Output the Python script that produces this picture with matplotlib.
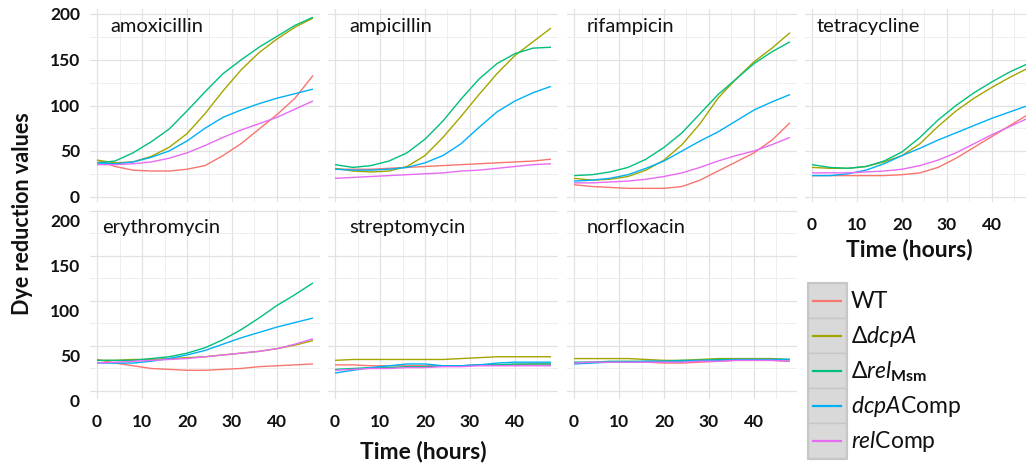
import matplotlib
matplotlib.use('Agg')
import matplotlib.pyplot as plt
import matplotlib.transforms as mtransforms
from matplotlib.patches import Rectangle

plt.rcParams['font.family'] = ['Lato', 'DejaVu Sans']
plt.rcParams['mathtext.fontset'] = 'custom'
plt.rcParams['mathtext.rm'] = 'Lato'
plt.rcParams['mathtext.it'] = 'Lato:italic'
plt.rcParams['mathtext.bf'] = 'Lato:bold'

# ---------------- data ----------------
time_h = [0, 4, 8, 12, 16, 20, 24, 28, 32, 36, 40, 44, 48]

strains = ['WT', 'dcpA', 'relMsm', 'dcpAComp', 'relComp']
legend_labels = ['WT', r'$\Delta\mathit{dcpA}$', r'$\Delta\mathit{rel}_{\mathbf{Msm}}$',
                 r'$\mathit{dcpA}\mathrm{Comp}$', r'$\mathit{rel}\mathrm{Comp}$']
colors = ['#F8766D', '#A3A500', '#00BF7D', '#00B0F6', '#E76BF3']

# order of series in each panel: WT, dcpA, relMsm, dcpAComp, relComp
amoxicillin = [
    [40, 33, 29, 28, 28, 30, 34, 45, 58, 74, 90, 108, 133],
    [40, 37, 38, 44, 54, 69, 91, 116, 139, 158, 173, 186, 196],
    [37, 39, 48, 60, 74, 94, 115, 135, 150, 164, 176, 188, 197],
    [37, 36, 38, 43, 50, 61, 75, 87, 95, 102, 108, 113, 118],
    [35, 35, 36, 38, 42, 48, 56, 65, 73, 80, 87, 96, 105],
]
ampicillin = [
    [30, 30, 30, 31, 32, 33, 34, 35, 36, 37, 38, 39, 41],
    [31, 28, 27, 28, 33, 45, 65, 88, 112, 135, 155, 170, 185],
    [35, 32, 34, 39, 48, 63, 83, 107, 129, 146, 157, 163, 164],
    [30, 29, 29, 30, 32, 37, 45, 58, 76, 93, 105, 114, 121],
    [20, 21, 22, 23, 24, 25, 26, 28, 29, 31, 33, 35, 36],
]
rifampicin = [
    [13, 11, 10, 9, 9, 9, 11, 18, 28, 38, 48, 62, 81],
    [20, 18, 19, 22, 29, 40, 57, 80, 108, 129, 148, 163, 180],
    [23, 24, 27, 32, 41, 54, 70, 91, 112, 129, 146, 159, 170],
    [17, 18, 20, 24, 31, 39, 50, 61, 71, 83, 95, 104, 112],
    [15, 15, 16, 17, 19, 22, 26, 32, 39, 45, 50, 57, 65],
]
tetracycline = [
    [23, 23, 23, 23, 23, 24, 26, 32, 42, 54, 66, 78, 90],
    [32, 31, 31, 33, 38, 45, 58, 77, 94, 108, 120, 131, 141],
    [35, 32, 31, 33, 39, 49, 65, 84, 100, 114, 126, 137, 146],
    [23, 23, 25, 29, 36, 45, 53, 62, 70, 78, 86, 93, 100],
    [26, 26, 26, 27, 28, 30, 34, 40, 48, 58, 68, 77, 86],
]
erythromycin = [
    [35, 31, 28, 25, 24, 23, 23, 24, 25, 27, 28, 29, 30],
    [34, 34, 35, 35, 36, 37, 38, 40, 42, 44, 47, 51, 56],
    [34, 34, 34, 36, 38, 42, 48, 57, 68, 81, 95, 107, 120],
    [31, 31, 31, 33, 36, 40, 45, 52, 59, 65, 71, 76, 81],
    [31, 32, 33, 34, 35, 36, 38, 40, 42, 44, 47, 52, 58],
]
streptomycin = [
    [29, 29, 28, 28, 28, 28, 28, 28, 29, 29, 29, 30, 30],
    [34, 35, 35, 35, 35, 35, 35, 36, 37, 38, 38, 38, 38],
    [24, 25, 26, 26, 27, 27, 28, 28, 29, 29, 30, 30, 30],
    [20, 23, 26, 28, 30, 30, 28, 28, 29, 31, 32, 32, 32],
    [23, 24, 25, 25, 26, 26, 27, 27, 28, 28, 28, 28, 28],
]
norfloxacin = [
    [31, 32, 32, 32, 32, 31, 31, 32, 33, 34, 34, 34, 33],
    [36, 36, 36, 36, 35, 34, 34, 35, 36, 36, 36, 36, 35],
    [32, 32, 33, 33, 33, 33, 34, 34, 35, 35, 35, 35, 35],
    [30, 31, 32, 32, 33, 33, 33, 34, 34, 35, 35, 35, 35],
    [31, 32, 32, 32, 32, 32, 32, 33, 33, 34, 34, 34, 33],
]

panel_names = ['amoxicillin', 'ampicillin', 'rifampicin', 'tetracycline',
               'erythromycin', 'streptomycin', 'norfloxacin']
panel_data = [amoxicillin, ampicillin, rifampicin, tetracycline,
              erythromycin, streptomycin, norfloxacin]

x_ticks = [0, 10, 20, 30, 40]
y_ticks = [0, 50, 100, 150, 200]

# ---------------- figure ----------------
W, H = 1026, 464
fig = plt.figure(figsize=(W / 100, H / 100), dpi=100)
fig.patch.set_facecolor('white')


def px_rect(left, top, width, height):
    return [left / W, 1 - (top + height) / H, width / W, height / H]


col_left = [90, 328, 567, 805]
panel_w = 230
rows = {0: (10, 193), 1: (211, 189)}
ylims = {0: (-6.0, 206.0), 1: (-8.9, 201.0)}
xlim = (-1.56, 49.56)
title_dx = [20, 21, 20, 12, 12, 21, 20]

grid_major = '#e2e2e2'
grid_minor = '#eeeeee'
txt = '#111111'

axes = []
for i, (name, series) in enumerate(zip(panel_names, panel_data)):
    r, c = divmod(i, 4)
    top, h = rows[r]
    ax = fig.add_axes(px_rect(col_left[c], top, panel_w, h))
    ax.set_facecolor('white')
    for s in ax.spines.values():
        s.set_visible(False)
    ax.set_xlim(*xlim)
    ax.set_ylim(*ylims[r])
    ax.set_xticks(x_ticks)
    ax.set_xticks([5, 15, 25, 35, 45], minor=True)
    ax.set_yticks(y_ticks)
    ax.set_yticks([25, 75, 125, 175], minor=True)
    ax.grid(True, which='major', color=grid_major, lw=0.9)
    ax.grid(True, which='minor', color=grid_minor, lw=0.7)
    ax.set_axisbelow(True)
    ax.tick_params(which='both', length=0)
    for k, ys in enumerate(series):
        ax.plot(time_h, ys, color=colors[k], lw=1.0, solid_capstyle='butt',
                solid_joinstyle='round', clip_on=True)
    # panel title
    ax.text(title_dx[i] / panel_w, 0.885, name, transform=ax.transAxes,
            ha='left', va='baseline', fontsize=14.5, color=txt)
    show_x = (r == 1) or (i == 3)
    if show_x:
        ax.set_xticklabels([str(v) for v in x_ticks], fontsize=12.5,
                           fontweight='bold', color=txt)
        ax.tick_params(axis='x', pad=10)
    else:
        ax.set_xticklabels([])
    ax.set_yticklabels([])
    if c == 0:
        off_y = 0 if r == 0 else -10
        tr = mtransforms.blended_transform_factory(ax.transAxes, ax.transData) + \
            mtransforms.ScaledTranslation(-10 / 100, off_y / 100, fig.dpi_scale_trans)
        for v in y_ticks:
            ax.text(0, v, str(v), transform=tr, ha='right', va='center',
                    fontsize=12.5, fontweight='bold', color=txt)
    axes.append(ax)

# axis titles
fig.text(23 / W, 1 - 214 / H, 'Dye reduction values', rotation=90, ha='center', va='center',
         fontsize=15.5, fontweight='bold', color=txt)
fig.text(423 / W, 1 - 452 / H, 'Time (hours)', ha='center', va='center',
         fontsize=16.5, fontweight='bold', color=txt)
fig.text(909 / W, 1 - 250 / H, 'Time (hours)', ha='center', va='center',
         fontsize=16.5, fontweight='bold', color=txt)

# legend (ggplot-style grey keys)
lax = fig.add_axes([0, 0, 1, 1], facecolor='none')
lax.set_xlim(0, W)
lax.set_ylim(H, 0)
lax.axis('off')
key_left, key_top, key_w, key_h = 808, 284, 38, 35
lax.add_patch(Rectangle((key_left - 1, key_top - 1), key_w + 2, key_h * 5 + 2,
                        facecolor='#cfcfcf', edgecolor='#c8c8c8', lw=0.8))
for k, (lab, col) in enumerate(zip(legend_labels, colors)):
    y0 = key_top + k * key_h
    lax.add_patch(Rectangle((key_left, y0), key_w, key_h, facecolor='#d9d9d9',
                            edgecolor='#c6c6c6', lw=1.0))
    cy = y0 + key_h / 2
    lax.plot([key_left + 5, key_left + key_w - 5], [cy, cy], color=col, lw=1.6)
    lax.text(key_left + key_w + 5, cy, lab, ha='left', va='center', fontsize=16.5,
             color=txt)

fig.savefig('out.png', dpi=100)
